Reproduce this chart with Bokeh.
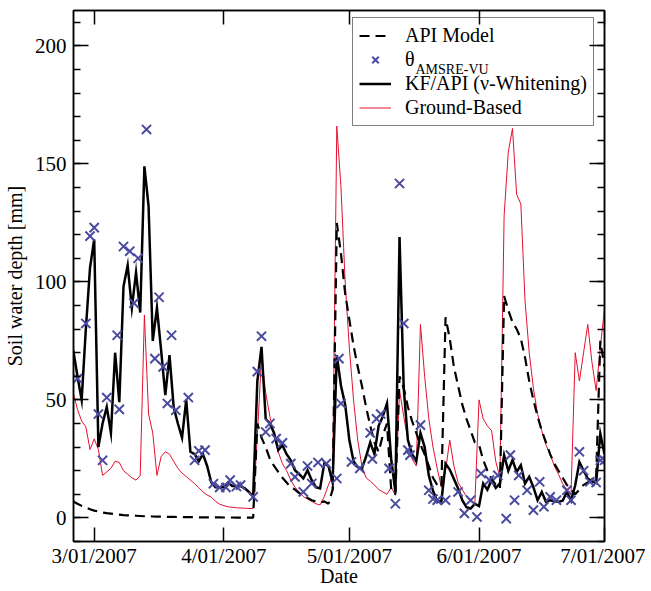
from bokeh.plotting import figure
from bokeh.models import (Range1d, FixedTicker, SingleIntervalTicker, LinearAxis,
                          Legend, LegendItem, Label)
from bokeh.embed import file_html
from bokeh.resources import INLINE

# x values are days since 2007-03-01; daily series start on 2007-02-24 (day -5)
start_day = -5

kf_api = [
    71, 60, 50, 80, 106, 118, 30, 40, 47, 36,
    70, 49, 98, 107, 89, 104, 87, 149, 132, 75,
    89, 71, 52, 69, 47, 40, 34, 50, 28, 27,
    24, 27, 22, 15, 13, 13, 13, 15, 13.5, 13.5,
    13.5, 12.5, 11, 9, 58, 72.5, 42, 40, 36, 28.7,
    30.8, 27, 24.4, 20.2, 18.5, 16.7, 20.2, 16, 13, 12.5,
    23, 22, 15, 69, 56, 48, 33, 24, 21.5, 21,
    26, 32, 27, 39, 43, 48.5, 25, 11, 119, 55,
    33, 27, 24, 36, 30, 18, 11.5, 7, 7, 23,
    20.5, 16.5, 12.5, 7.5, 4.5, 4, 6, 5, 14.6, 12,
    16, 12.7, 14.6, 26.6, 20, 24.5, 19.5, 22.3, 14.6, 17.4,
    13, 7.5, 11, 6.8, 7.5, 7, 6.8, 7.3, 11, 7.3,
    13.8, 23.7, 20, 16.7, 15.5, 14.8, 35.7, 27,
]

api_model = [
    7.0, 6.0, 5.1, 4.4, 3.7, 3.1, 2.7, 2.3, 2.0, 1.8,
    1.6, 1.4, 1.2, 1.1, 1.0, 0.9, 0.8, 0.7, 0.65, 0.6,
    0.55, 0.5, 0.45, 0.42, 0.4, 0.37, 0.35, 0.33, 0.3, 0.28,
    0.26, 0.25, 0.23, 0.22, 0.2, 0.19, 0.18, 0.17, 0.16, 0.15,
    0.14, 0.13, 0.12, 0.12, 40, 34, 30, 25, 22, 19.5,
    17, 15, 13, 12, 10.5, 9.5, 8.5, 7.5, 7, 6.5,
    7, 6, 12, 125, 112, 95, 84, 73, 64, 56,
    47, 39, 32, 28, 35, 40, 12, 10, 60, 55,
    47, 41, 36, 31, 27, 22, 17, 14, 13, 85,
    76, 64, 56, 48, 42, 37, 32, 31, 24.5, 20,
    16.5, 14, 12.5, 94, 88, 83, 80, 76, 68, 58,
    50, 43, 37, 32, 27, 23, 20, 17, 14, 12,
    10, 12, 14, 15, 16, 17, 75, 64,
]

ground_based = [
    53, 46, 41, 38.6, 29, 33.5, 29, 18, 19.5, 21,
    24, 23.5, 20, 18.5, 17, 16, 18, 86, 44, 36,
    18, 26, 28, 27, 24, 21, 19, 17.5, 16, 14.5,
    12.8, 11, 9.7, 8.8, 7, 5.8, 5.2, 4.7, 4.5, 4.3,
    4.2, 4.1, 4, 4, 35, 68, 53, 43, 35, 28,
    23, 20, 16, 13, 11, 9, 8, 7, 6, 5.5,
    9, 14, 18, 166, 140, 100, 72, 50, 33, 22,
    17, 15.5, 14, 12, 11, 10, 13, 9.6, 54, 43,
    33, 25, 22, 82, 60, 42, 30, 21, 13, 20,
    33, 22, 15, 12, 9, 7, 6, 50, 42, 39,
    37, 24, 17, 128, 155, 165, 137, 133, 92, 70,
    55, 44, 37, 31, 27, 22, 18.5, 14.5, 12, 10.3,
    70, 58, 70, 82, 66, 54, 72, 89,
]

# AMSR-E retrievals (two overpasses a day -> half-day steps), days since 2007-03-01
amsre_day = [
    -4, -2, -1, 0, 1, 2, 3, 5.5, 6, 7,
    8.5, 9.5, 10.5, 12.5, 14.5, 15.5, 16.5, 17.5, 18.5, 19.5,
    22.5, 24, 25, 26.5, 28.5, 30, 31.5, 32.5, 34, 35,
    38, 39, 40, 41, 42, 43.5, 45, 47, 48, 50,
    51, 52, 53.5, 55.5, 58, 58.5, 59, 61.5, 63.5, 66,
    66.5, 67.5, 68.5, 70.5, 72, 73, 74, 75, 75.5, 78,
    80, 81, 82, 84, 87, 88.5, 90, 91.5, 92.5, 94.5,
    96.5, 98.5, 99.5, 100.5, 101.5, 103.5, 105, 106.5, 107.5, 109,
    110.5, 113, 114, 116, 117, 118.5, 120, 121, 122,
]
amsre_value = [
    59, 82.4, 119.4, 123, 44, 24.4, 51, 77.4, 46, 115,
    113, 91, 110, 164.6, 67.5, 93.5, 64, 48.5, 77.4, 45.6,
    51, 24.4, 28.4, 28.7, 14.5, 12.9, 12.9, 16, 13.3, 13.9,
    8.9, 62, 77, 36.4, 40, 33.6, 31.8, 23, 17.4, 11,
    22, 14.6, 23.5, 23, 16.7, 67.5, 48.5, 23.7, 21, 36,
    25, 42, 44, 21, 6, 141.7, 82.4, 28.7, 26.6, 39.3,
    11.7, 8, 7.5, 7.5, 11, 1.9, 7.5, 0.4, 18.8, 16,
    18, -0.3, 26.6, 7.5, 18, 11.7, 3.3, 15.3, 4.7, 8.9,
    7.5, 11.7, 7.5, 28, 20, 15.3, 15, 24.4, 24.4,
]

tick_days = [0, 31, 61, 92, 122]
tick_labels = ["3/01/2007", "4/01/2007", "5/01/2007", "6/01/2007", "7/01/2007"]

days = list(range(start_day, start_day + len(kf_api)))

FONT = "Liberation Serif"
RED = "#e3102f"
BLUE = "#4a4a9e"

p = figure(frame_width=531, frame_height=531,
           x_range=Range1d(-4.95, 122), y_range=Range1d(-10, 215),
           output_backend="svg", toolbar_location=None,
           min_border_left=68, min_border_top=10, min_border_right=41,
           min_border_bottom=0, x_axis_type=None, y_axis_type=None)
p.xgrid.visible = False
p.ygrid.visible = False
p.outline_line_color = "black"
p.outline_line_width = 1.5
p.background_fill_color = "white"
p.border_fill_color = "white"

xticker = FixedTicker(ticks=tick_days, minor_ticks=[])
yticker = SingleIntervalTicker(interval=50, num_minor_ticks=5)


def style_axis(ax, labels=True):
    ax.axis_line_color = "black"
    ax.axis_line_width = 1.5
    ax.major_tick_line_color = "black"
    ax.major_tick_line_width = 1.5
    ax.minor_tick_line_color = "black"
    ax.minor_tick_line_width = 1.5
    ax.major_tick_out = 0
    ax.minor_tick_out = 0
    ax.major_label_text_font = FONT
    ax.major_label_text_color = "black"
    ax.axis_label_text_font = FONT
    ax.axis_label_text_font_style = "normal"
    ax.axis_label_text_color = "black"
    ax.axis_label_text_font_size = "20px"
    if labels:
        ax.major_label_text_font_size = "21px"
    else:
        ax.major_label_text_font_size = "0px"
        ax.major_label_standoff = 0


xb = LinearAxis(ticker=xticker, axis_label="Date")
style_axis(xb)
xb.major_tick_in = 14
xb.major_label_overrides = {d: s for d, s in zip(tick_days, tick_labels)}
xb.major_label_standoff = 2
xb.axis_label_standoff = -6
p.add_layout(xb, "below")

xt = LinearAxis(ticker=xticker)
style_axis(xt, labels=False)
xt.major_tick_in = 14
xt.major_label_overrides = {d: "" for d in tick_days}
p.add_layout(xt, "above")

yl = LinearAxis(ticker=yticker, axis_label="Soil water depth [mm]")
style_axis(yl)
yl.major_tick_in = 15
yl.minor_tick_in = 7
yl.major_label_standoff = 7
yl.axis_label_standoff = 6
p.add_layout(yl, "left")

yr = LinearAxis(ticker=yticker)
style_axis(yr, labels=False)
yr.major_tick_in = 15
yr.minor_tick_in = 7
yr.major_label_overrides = {v: "" for v in range(0, 250, 50)}
p.add_layout(yr, "right")

r_ground = p.line(days, ground_based, line_color=RED, line_width=1)
r_api = p.line(days, api_model, line_color="black", line_width=2.2, line_dash="10 6")
r_kf = p.line(days, kf_api, line_color="black", line_width=2.5, line_join="miter")
r_amsre = p.scatter(amsre_day, amsre_value, marker="x", size=13, line_width=2,
                    line_color=BLUE)

legend = Legend(items=[
    LegendItem(label="API Model", renderers=[r_api]),
    LegendItem(label="θ", renderers=[r_amsre]),
    LegendItem(label="KF/API (ν-Whitening)", renderers=[r_kf]),
    LegendItem(label="Ground-Based", renderers=[r_ground]),
], location=(279, 415))
legend.padding = 6
legend.spacing = 1
legend.margin = 0
legend.glyph_width = 32
legend.glyph_height = 23
legend.label_height = 23
legend.label_standoff = 14
legend.label_text_font = FONT
legend.label_text_font_size = "20px"
legend.label_text_color = "black"
legend.border_line_color = "black"
legend.border_line_width = 1
legend.background_fill_alpha = 0
p.add_layout(legend)

sub = Label(x=342, y=472, x_units="screen", y_units="screen", text="AMSRE-VU",
            text_font=FONT, text_font_size="14px", text_color="black",
            text_baseline="alphabetic", text_align="left", level="overlay")
p.add_layout(sub)

open("out.html", "w").write(file_html(p, INLINE))
